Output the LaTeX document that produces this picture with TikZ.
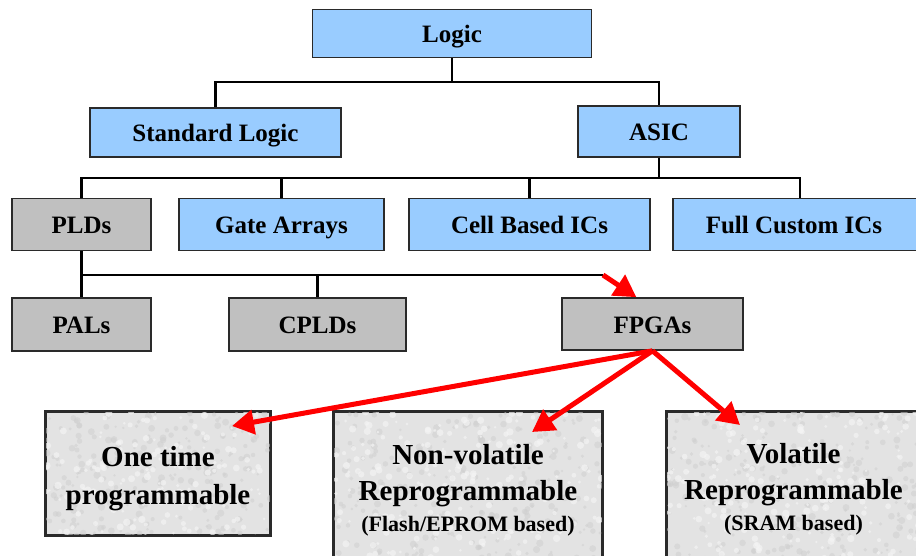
\documentclass[tikz,border=0pt]{standalone}
\usepackage{fontspec}
\setmainfont{Liberation Serif}
\usetikzlibrary{arrows.meta,calc}
\definecolor{boxblue}{HTML}{99CCFF}
\definecolor{boxgrey}{HTML}{C0C0C0}
\definecolor{boxlight}{HTML}{E3E3E3}
\definecolor{grainA}{HTML}{CFCFCF}
\definecolor{grainB}{HTML}{F4F4F4}
\definecolor{edge}{HTML}{2A2A2A}
\definecolor{arrred}{HTML}{FF0000}
\begin{document}
\begin{tikzpicture}[x=1pt,y=-1pt,
  box/.style={draw=edge, line width=1.6pt, rectangle, inner sep=0pt, align=center,
    font=\fontsize{25}{30}\selectfont\bfseries},
  rowbox/.style={box, text height=20pt, text depth=1.5pt},
  bluebox/.style={rowbox, fill=boxblue},
  greybox/.style={rowbox, fill=boxgrey},
  bigbox/.style={box, fill=boxlight, font=\fontsize{29}{37}\selectfont\bfseries},
  conn/.style={draw=black, line width=2.6pt},
  redarr/.style={draw=arrred, line width=5pt, -{Triangle[length=22pt,width=24pt]}}
]
\useasboundingbox (0,0) rectangle (916,555);
\fill[white] (0,0) rectangle (916,555);

% level 1-2
\node[bluebox, minimum width=279pt, minimum height=48pt] (logic) at (452,33.5) {Logic};
\node[bluebox, minimum width=251pt, minimum height=49pt] (std) at (215.5,132.5) {Standard Logic};
\node[bluebox, minimum width=162pt, minimum height=51pt] (asic) at (659,131.5) {ASIC};

% level 3
\node[greybox, minimum width=139pt, minimum height=52pt] (plds) at (81.5,224.5) {PLDs};
\node[bluebox, minimum width=205pt, minimum height=52pt] (gate) at (281.5,224.5) {Gate Arrays};
\node[bluebox, minimum width=241pt, minimum height=52pt] (cell) at (529.5,224.5) {Cell Based ICs};
\node[bluebox, minimum width=254pt, minimum height=52pt] (full) at (800,224.5) {\hspace*{-12pt}Full Custom ICs};

% level 4
\node[greybox, minimum width=139pt, minimum height=53pt] (pals) at (81.5,324.5) {PALs};
\node[greybox, minimum width=177pt, minimum height=53pt] (cplds) at (317.5,324.5) {CPLDs};
\node[greybox, minimum width=181pt, minimum height=52pt] (fpgas) at (652.5,324) {FPGAs};

% level 5: boxes with a granite-like grain
\node[bigbox, minimum width=224pt, minimum height=123pt] (otp) at (158,473.5) {};
\node[bigbox, minimum width=268pt, minimum height=148pt] (nvr) at (468,486) {};
\node[bigbox, minimum width=253pt, minimum height=148pt] (vr) at (793.5,486) {};
\pgfmathsetseed{7}
\foreach \b in {otp,nvr,vr}{
  \begin{scope}
    \clip (\b.north west) rectangle (\b.south east);
    \foreach \i in {1,...,260}{
      \pgfmathsetmacro{\rx}{rnd}
      \pgfmathsetmacro{\ry}{rnd}
      \pgfmathsetmacro{\rr}{1.2+2.5*rnd}
      \fill[grainA, opacity=0.55] ($(\b.north west)!\rx!(\b.north east)$) ++(0,{\ry*150}) circle[radius=\rr pt];
    }
    \foreach \i in {1,...,200}{
      \pgfmathsetmacro{\rx}{rnd}
      \pgfmathsetmacro{\ry}{rnd}
      \pgfmathsetmacro{\rr}{1.2+2.5*rnd}
      \fill[grainB, opacity=0.7] ($(\b.north west)!\rx!(\b.north east)$) ++(0,{\ry*150}) circle[radius=\rr pt];
    }
  \end{scope}
  \draw[draw=edge, line width=1.6pt] (\b.north west) rectangle (\b.south east);
}
\node[align=center, font=\fontsize{29}{38}\selectfont\bfseries] (otpt) at ([yshift=-5pt]otp.center) {One time\\programmable};
\node[align=center, font=\fontsize{29}{36}\selectfont\bfseries] (nvrt) at ([yshift=-4pt]nvr.center)
  {Non-volatile\\Reprogrammable\\[-5pt]{\fontsize{22}{26}\selectfont (Flash/EPROM based)}};
\node[align=center, font=\fontsize{29}{36}\selectfont\bfseries] (vrt) at ([yshift=-3pt]vr.center)
  {Volatile\\Reprogrammable\\[-5pt]{\fontsize{22}{26}\selectfont (SRAM based)}};

% black connectors
\coordinate (j1) at (452,82);
\coordinate (j2) at (659,178);
\coordinate (j3) at (81.5,275);
\coordinate (j4) at (603,275);
\draw[conn] (logic.south) -- (j1);
\draw[conn] (std.north) |- (j1) -| (asic.north);
\draw[conn] (asic.south) -- (j2);
\draw[conn] (plds.north) |- (j2);
\draw[conn] (gate.north) |- (j2);
\draw[conn] (cell.north) |- (j2);
\draw[conn] (full.north) |- (j2);
\draw[conn] (plds.south) -- (j3) -- (j4);
\draw[conn] (j3) -- (pals.north);
\draw[conn] (cplds.north) |- (j3);

% red arrows
\coordinate (t1) at (232,426);
\coordinate (t2) at (532,432);
\coordinate (t3) at (740,425);
\draw[redarr] (j4) -- (fpgas.121);
\draw[redarr] (fpgas.south) -- (t1);
\draw[redarr] (fpgas.south) -- (t2);
\draw[redarr] (fpgas.south) -- (t3);
\end{tikzpicture}
\end{document}
